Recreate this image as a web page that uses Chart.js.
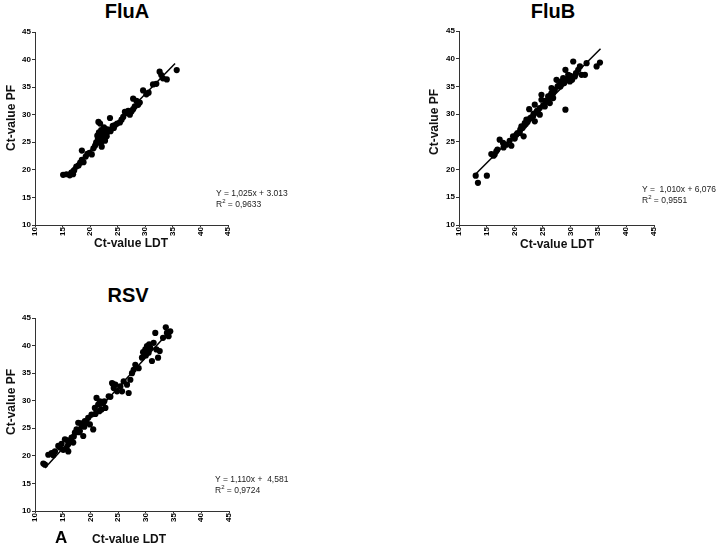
<!DOCTYPE html>
<html>
<head>
<meta charset="utf-8">
<script src="https://cdn.jsdelivr.net/npm/chart.js@4.4.1/dist/chart.umd.min.js"></script>
<style>
body{margin:0;background:#fff;font-family:"Liberation Sans",Arial,sans-serif;}
#wrap{position:relative;width:717px;height:548px;overflow:hidden;}
canvas{position:absolute;}
.t{position:absolute;font-weight:bold;font-size:20px;color:#000;transform:translateX(-50%);white-space:nowrap;}
.yl{position:absolute;font-weight:bold;font-size:12px;color:#111;transform:translate(-50%,-50%) rotate(-90deg);white-space:nowrap;}
.xl{position:absolute;font-weight:bold;font-size:12px;color:#111;transform:translateX(-50%);white-space:nowrap;}
.eq{position:absolute;font-size:8.5px;line-height:11px;color:#222;white-space:pre;}
.eq sup{font-size:6px;vertical-align:4px;line-height:0;}
</style>
</head>
<body>
<div id="wrap">
<canvas id="fluA" width="240" height="225" style="left:0;top:24px"></canvas>
<canvas id="fluB" width="246" height="226" style="left:420px;top:23px"></canvas>
<canvas id="rsv" width="241" height="225" style="left:0;top:310px"></canvas>

<div class="t" style="left:127px;top:0px">FluA</div>
<div class="t" style="left:553px;top:0px">FluB</div>
<div class="t" style="left:128px;top:284px">RSV</div>

<div class="yl" style="left:11px;top:118px">Ct-value PF</div>
<div class="yl" style="left:434px;top:122px">Ct-value PF</div>
<div class="yl" style="left:11px;top:402px">Ct-value PF</div>

<div class="xl" style="left:131px;top:236px">Ct-value LDT</div>
<div class="xl" style="left:557px;top:237px">Ct-value LDT</div>
<div class="xl" style="left:129px;top:532px">Ct-value LDT</div>
<div style="position:absolute;left:55px;top:528px;font-weight:bold;font-size:17px;">A</div>

<div class="eq" style="left:216px;top:188px">Y = 1,025x + 3.013
R<sup>2</sup> = 0,9633</div>
<div class="eq" style="left:642px;top:184px">Y =  1,010x + 6,076
R<sup>2</sup> = 0,9551</div>
<div class="eq" style="left:215px;top:474px">Y = 1,110x +  4,581
R<sup>2</sup> = 0,9724</div>
</div>
<script>
// FluA
const fluAx = [15.1,15.7,16.3,16.6,16.9,17.1,17.5,17.9,18.2,18.5,18.5,18.8,19.2,19.5,19.9,20.3,20.6,20.9,21.1,21.3,21.5,21.8,21.4,21.6,21.7,21.9,22.0,22.1,22.2,22.3,22.4,22.5,22.6,22.7,22.8,22.9,23.0,23.2,23.4,23.6,23.7,24.1,24.5,24.9,25.4,25.7,26.0,26.3,26.6,26.9,27.2,27.5,27.8,27.8,28.1,28.4,28.7,29.0,29.6,30.2,30.6,31.4,32.0,32.6,32.9,33.2,33.9,35.7,24.3,22.0];
const fluAy = [19.1,19.2,19.0,19.5,19.2,19.9,20.6,20.8,21.3,21.8,23.5,21.4,22.4,22.9,23.1,22.8,23.9,24.4,25.0,26.2,28.7,28.4,25.6,26.8,24.9,25.9,27.2,24.2,25.4,26.5,25.9,27.7,26.2,25.3,26.8,27.4,26.1,26.9,27.3,29.4,27.0,28.0,28.1,28.4,28.6,29.1,29.6,30.5,30.3,30.7,30.0,30.6,31.0,32.9,31.5,32.5,31.8,32.2,34.4,33.7,34.0,35.5,35.6,37.8,37.2,36.6,36.4,38.1,27.6,25.0];
const fitAx = [15.8, 35.4];
const fitAy = [19.2, 39.3];

// FluB
const fluBx = [13.0,13.4,15.0,15.8,16.4,16.7,17.3,17.9,18.5,19.4,19.7,20.3,20.9,21.2,21.6,21.8,22.1,22.6,22.8,23.3,23.6,23.6,24.2,24.5,24.8,24.8,25.4,25.7,26.0,26.3,26.6,26.6,26.9,27.0,27.5,28.0,28.4,28.7,29.1,29.1,29.6,29.9,30.5,30.8,31.4,31.7,32.0,32.6,32.9,34.7,35.3,21.0,21.4,21.7,22.0,22.3,22.5,23.0,23.4,24.0,24.5,25.1,25.5,26.1,26.4,26.8,27.2,27.7,28.2,28.9,29.4,30.0,30.3,31.0,16.2,16.9,18.0,19.1,20.0,20.5];
const fluBy = [18.9,17.6,18.9,22.8,22.7,23.3,25.4,24.8,24.5,24.3,26.0,26.3,26.6,27.8,26.0,28.4,29.0,30.9,29.3,29.6,31.7,28.7,30.2,29.9,32.6,33.5,31.4,32.3,33.2,32.0,33.8,34.7,32.9,34.1,36.2,35.3,35.9,36.5,30.8,38.0,37.1,35.9,39.5,36.8,38.0,38.6,37.1,37.1,39.2,38.6,39.3,27.2,27.5,27.9,28.2,28.6,29.0,29.4,30.1,30.6,31.1,31.6,32.4,32.7,33.4,33.6,34.4,35.0,35.0,35.6,36.3,36.9,36.2,37.4,22.5,23.6,24.0,25.2,25.6,26.6];
const fitBx = [13.0, 35.4];
const fitBy = [19.2, 41.8];

// RSV
const rsvX = [11.5,11.8,12.4,13.0,13.6,14.2,14.8,15.1,15.4,15.7,16.0,16.0,16.6,16.9,17.2,17.5,17.8,18.1,18.4,18.7,19.0,19.6,19.9,20.2,20.5,20.8,21.1,21.4,21.7,22.0,22.3,22.7,23.3,23.9,24.2,24.5,24.8,25.4,25.7,26.0,26.6,26.9,27.2,27.5,27.8,28.1,28.7,29.3,29.9,30.2,30.5,30.8,31.1,31.4,31.7,31.9,32.2,32.5,33.1,33.6,33.8,34.1,34.4,13.3,14.5,15.9,16.3,17.0,17.9,18.3,18.9,19.3,20.9,21.6,22.5,23.6,24.1,29.5,30.0,30.6];
const rsvY = [18.6,18.4,20.2,20.5,20.8,21.8,22.2,21.1,23.0,21.4,22.1,20.8,23.3,22.4,24.2,24.8,26.0,24.5,25.4,23.6,26.3,26.9,25.7,27.5,24.8,28.7,30.5,29.3,29.9,28.4,29.6,28.7,30.8,33.2,32.3,32.9,31.7,32.6,31.7,33.5,32.9,31.4,33.8,35.0,35.6,36.5,35.9,37.8,39.3,39.9,38.7,39.6,37.2,40.5,42.3,39.3,37.8,39.0,41.4,43.3,42.3,41.7,42.6,20.1,21.5,22.8,22.6,23.5,24.3,25.9,25.3,26.0,27.6,28.1,29.9,30.7,33.0,38.8,38.2,40.2];
const fitRx = [11.8, 34.0];
const fitRy = [17.8, 42.3];

const tickFont = { family: "'Liberation Sans', Arial, sans-serif", size: 8, weight: "bold" };

function makeChart(id, xs, ys, fx, fy, yWidth) {
    const pts = xs.map((x, i) => ({ x: x, y: ys[i] }));
    const line = fx.map((x, i) => ({ x: x, y: fy[i] }));
    return new Chart(document.getElementById(id).getContext("2d"), {
        type: "scatter",
        data: {
            datasets: [{
                data: pts,
                pointRadius: 3.1,
                pointBackgroundColor: "#000",
                pointBorderWidth: 0,
            }, {
                type: "line",
                data: line,
                showLine: true,
                borderColor: "#000",
                borderWidth: 1.5,
                pointRadius: 0,
                fill: false,
            }],
        },
        options: {
            responsive: false,
            animation: false,
            events: [],
            layout: { padding: { top: 8, right: 12, left: 0, bottom: 0 } },
            plugins: { legend: { display: false }, tooltip: { enabled: false } },
            scales: {
                x: {
                    type: "linear",
                    min: 10, max: 45,
                    afterFit: (s) => { s.height = 24; },
                    ticks: { stepSize: 5, minRotation: 90, maxRotation: 90, color: "#000", font: tickFont, padding: 0 },
                    grid: { drawOnChartArea: false, drawTicks: true, tickLength: 2, color: "#333" },
                    border: { color: "#333", width: 1 },
                },
                y: {
                    type: "linear",
                    min: 10, max: 45,
                    afterFit: (s) => { s.width = yWidth; },
                    ticks: { stepSize: 5, color: "#000", font: tickFont, padding: 1 },
                    grid: { drawOnChartArea: false, drawTicks: true, tickLength: 3, color: "#333" },
                    border: { color: "#333", width: 1 },
                },
            },
        },
    });
}

makeChart("fluA", fluAx, fluAy, fitAx, fitAy, 35);
makeChart("fluB", fluBx, fluBy, fitBx, fitBy, 39);
makeChart("rsv", rsvX, rsvY, fitRx, fitRy, 35);
</script>
</body>
</html>
